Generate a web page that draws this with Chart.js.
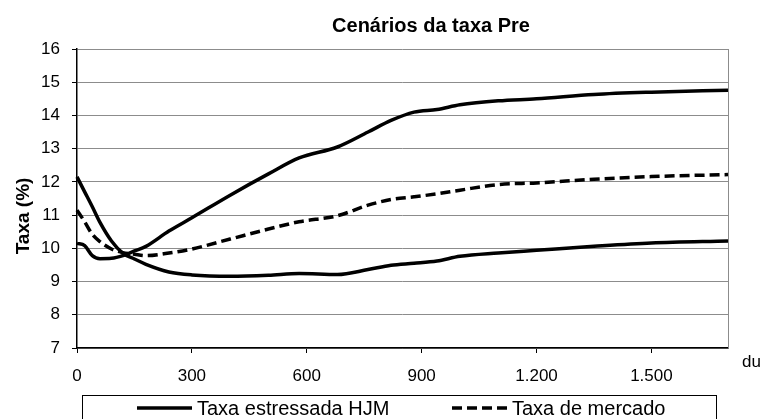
<!DOCTYPE html>
<html lang="pt-BR">
<head>
<meta charset="utf-8">
<title>Cenários da taxa Pre</title>
<script src="https://cdn.jsdelivr.net/npm/chart.js@4.4.1/dist/chart.umd.min.js"></script>
<style>
    html, body { margin: 0; padding: 0; background: #fff; }
    canvas { display: block; }
</style>
</head>
<body>
<canvas id="grafico" width="764" height="419"></canvas>
<script>
// dias úteis (eixo x)
const dias = [0, 20, 40, 60, 90, 120, 150, 180, 240, 300, 400, 500, 580, 680, 760, 820, 880, 940, 1000, 1100, 1200, 1350, 1500, 1700];

// cenário estressado de alta (HJM)
const taxaAlta = [10.15, 10.08, 9.78, 9.69, 9.70, 9.78, 9.92, 10.06, 10.52, 10.92, 11.60, 12.24, 12.72, 13.05, 13.50, 13.85, 14.10, 14.18, 14.32, 14.44, 14.50, 14.63, 14.70, 14.76];

// cenário estressado de baixa (HJM)
const taxaBaixa = [12.15, 11.70, 11.25, 10.78, 10.22, 9.85, 9.68, 9.52, 9.29, 9.20, 9.16, 9.19, 9.24, 9.21, 9.36, 9.49, 9.55, 9.62, 9.76, 9.86, 9.94, 10.06, 10.16, 10.22];

// curva de mercado
const taxaMercado = [11.15, 10.80, 10.42, 10.20, 9.98, 9.87, 9.82, 9.78, 9.86, 9.98, 10.28, 10.58, 10.80, 10.98, 11.30, 11.47, 11.55, 11.64, 11.75, 11.92, 11.97, 12.08, 12.16, 12.22];

const ticksX = [0, 300, 600, 900, 1200, 1500];
const rotulosX = ['0', '300', '600', '900', '1.200', '1.500'];
const ticksY = [7, 8, 9, 10, 11, 12, 13, 14, 15, 16];

const FONTE = "'Liberation Sans', Arial, sans-serif";

const pontos = (valores) => dias.map((d, i) => ({ x: d, y: valores[i] }));

const serie = (rotulo, valores, tracejado, naLegenda) => ({
    label: rotulo,
    data: pontos(valores),
    borderColor: '#000',
    backgroundColor: '#000',
    borderWidth: 3.5,
    borderDash: tracejado ? [10, 5] : [],
    pointRadius: 0,
    fill: false,
    cubicInterpolationMode: 'monotone',
    clip: false,
    naLegenda: naLegenda
});

// textos, borda direita e legenda em caixa
const extras = {
    id: 'extras',
    beforeDatasetsDraw(chart) {
        const { ctx, chartArea } = chart;
        ctx.save();
        ctx.strokeStyle = '#8c8c8c';
        ctx.lineWidth = 1;
        ctx.beginPath();
        ctx.moveTo(chartArea.right + 0.5, chartArea.top);
        ctx.lineTo(chartArea.right + 0.5, chartArea.bottom);
        ctx.stroke();
        ctx.restore();
    },
    afterDraw(chart) {
        const { ctx } = chart;
        ctx.save();
        ctx.fillStyle = '#000';

        ctx.font = 'bold 20px ' + FONTE;
        ctx.textAlign = 'center';
        ctx.textBaseline = 'alphabetic';
        ctx.fillText('Cenários da taxa Pre', 431, 32);

        ctx.save();
        ctx.translate(29, 216);
        ctx.rotate(-Math.PI / 2);
        ctx.font = 'bold 19px ' + FONTE;
        ctx.fillText('Taxa (%)', 0, 0);
        ctx.restore();

        ctx.font = '17px ' + FONTE;
        ctx.textAlign = 'left';
        ctx.fillText('du', 742, 367);

        // legenda
        ctx.strokeStyle = '#000';
        ctx.lineWidth = 1;
        ctx.strokeRect(82.5, 395.5, 634, 30);

        const itens = chart.data.datasets.filter((ds) => ds.naLegenda);
        const posicoes = [137, 452];
        ctx.font = '20px ' + FONTE;
        itens.forEach((ds, i) => {
            const x0 = posicoes[i];
            ctx.beginPath();
            ctx.setLineDash(ds.borderDash);
            ctx.lineWidth = 3.5;
            ctx.moveTo(x0, 408);
            ctx.lineTo(x0 + 55, 408);
            ctx.stroke();
            ctx.setLineDash([]);
            ctx.fillText(ds.label, x0 + 60, 415);
        });
        ctx.restore();
    }
};

new Chart(document.getElementById('grafico'), {
    type: 'line',
    data: {
        datasets: [
            serie('Taxa estressada HJM', taxaAlta, false, true),
            serie('Taxa de mercado', taxaMercado, true, true),
            serie('Taxa estressada HJM (baixa)', taxaBaixa, false, false)
        ]
    },
    options: {
        responsive: false,
        animation: false,
        layout: { padding: { top: 49, right: 36, bottom: 0, left: 0 } },
        plugins: {
            legend: { display: false },
            title: { display: false },
            tooltip: { enabled: false }
        },
        scales: {
            x: {
                type: 'linear',
                min: 0,
                max: 1700,
                afterFit: (escala) => { escala.height = 71; },
                afterBuildTicks: (escala) => { escala.ticks = ticksX.map((v) => ({ value: v })); },
                grid: { drawOnChartArea: false, drawTicks: true, tickLength: 5, tickColor: '#000', tickWidth: 1 },
                border: { color: '#000', width: 1.5 },
                ticks: {
                    padding: 13,
                    color: '#000',
                    font: { family: FONTE, size: 17 },
                    maxRotation: 0,
                    callback: (valor) => rotulosX[ticksX.indexOf(valor)]
                }
            },
            y: {
                min: 7,
                max: 16,
                afterFit: (escala) => { escala.width = 77; },
                afterBuildTicks: (escala) => { escala.ticks = ticksY.map((v) => ({ value: v })); },
                grid: { color: '#8c8c8c', lineWidth: 1, drawTicks: true, tickLength: 5, tickColor: '#000' },
                border: { color: '#000', width: 1.5 },
                ticks: {
                    padding: 12,
                    color: '#000',
                    font: { family: FONTE, size: 17 }
                }
            }
        }
    },
    plugins: [extras]
});
</script>
</body>
</html>
